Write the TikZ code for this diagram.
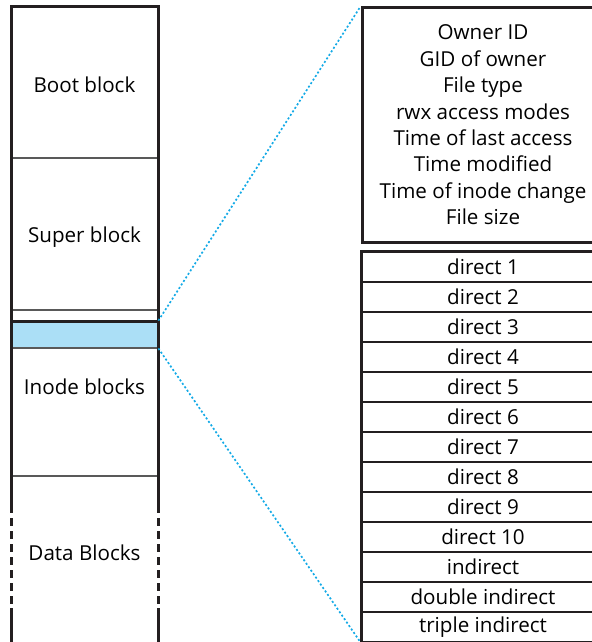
\documentclass[tikz,border=0pt]{standalone}
\usepackage{fontspec}
\setmainfont{Open Sans}
\definecolor{inodeblue}{RGB}{171,223,246}
\definecolor{linkblue}{RGB}{20,170,230}
\definecolor{edge}{RGB}{35,31,32}
\begin{document}
\begin{tikzpicture}[x=0.5pt, y=-0.5pt, >=stealth,
  font=\fontsize{10.3}{13.2}\selectfont,
  outer/.style={line width=1.5pt, draw=edge},
  inner/.style={line width=1pt, draw=black!65},
  row/.style={draw=edge, line width=1pt, rectangle, minimum width=121pt, minimum height=15pt, inner sep=0pt},
  link/.style={linkblue, line width=0.85pt, dash pattern=on 1pt off 1.1pt}]
\useasboundingbox (0,0) rectangle (592,642);
\clip (0,0) rectangle (592,642);

% disk layout
\node[fill=inodeblue, minimum width=73.5pt, minimum height=13.5pt, inner sep=0pt] (inode) at (84.5,334.5) {};
\node (boot) at (84.5,85) {Boot block};
\node (super) at (84.5,237) {Super block};
\node (iblocks) at (84.5,387) {Inode blocks};
\node (data) at (84.5,553) {Data Blocks};
\draw[inner] (11,158) -- (158,158);
\draw[inner] (11,310) -- (158,310);
\draw[outer] (11,321) -- (158,321);
\draw[inner] (11,348) -- (158,348);
\draw[inner] (11,476) -- (158,476);
\draw[outer] (11,505) -- (11,7) -- (158,7) -- (158,505);
\draw[outer, dash pattern=on 4pt off 2.5pt] (11,505) -- (11,608);
\draw[outer, dash pattern=on 4pt off 2.5pt] (158,505) -- (158,608);
\draw[outer] (11,608) -- (11,645);
\draw[outer] (158,608) -- (158,645);

% inode contents
\node[draw=edge, line width=1.5pt, rectangle, minimum width=121pt, minimum height=117pt, align=center] (attrs) at (483,125)
  {Owner ID\\GID of owner\\File type\\rwx access modes\\Time of last access\\Time modified\\Time of inode change\\File size};
\foreach \lbl [count=\i] in {direct 1, direct 2, direct 3, direct 4, direct 5, direct 6, direct 7, direct 8, direct 9, direct 10, indirect, double indirect, triple indirect}
  \node[row] (r\i) at (483,237+30*\i) {\lbl};
\draw[outer] (r1.north east) -- (r1.north west) -- (r13.south west);

\draw[link] (inode.north east) -- (attrs.north west);
\draw[link] (inode.south east) -- (r13.south west);
\end{tikzpicture}
\end{document}
